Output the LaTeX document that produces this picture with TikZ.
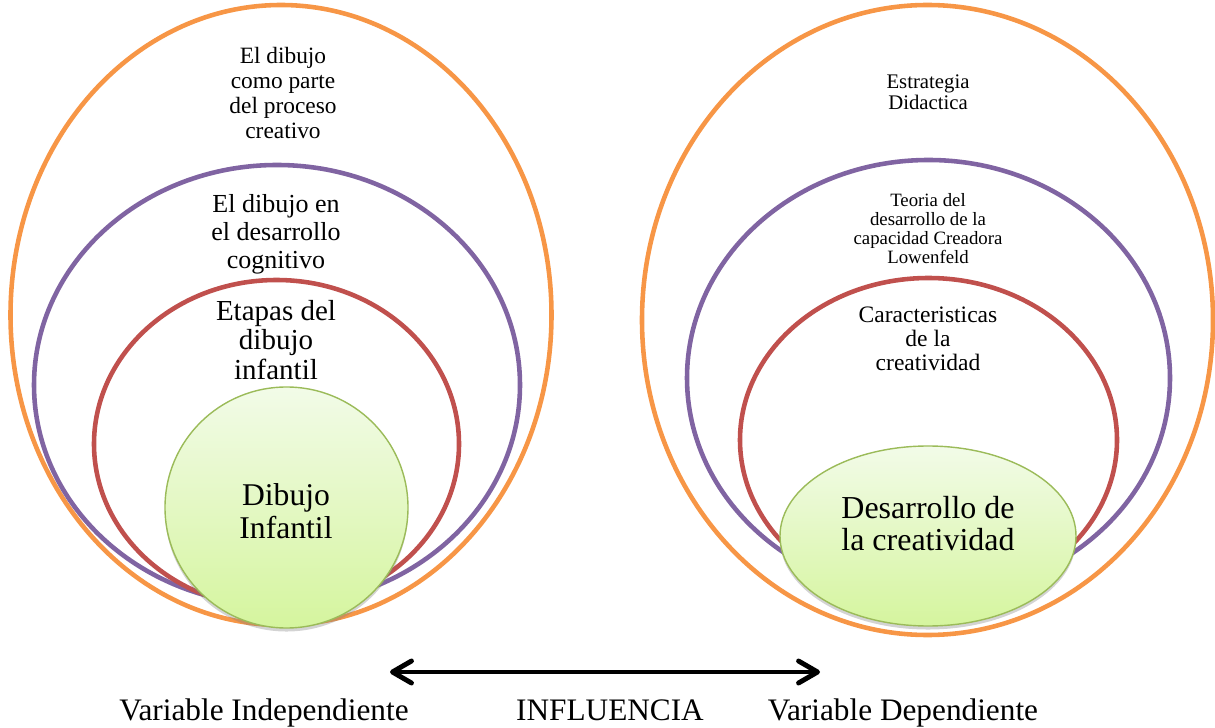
\documentclass[tikz,border=0pt]{standalone}
\usepackage{fontspec}
\setmainfont{Liberation Serif}
\usepackage{tikz}
\usetikzlibrary{arrows.meta,shapes.geometric,shadows,positioning}

\definecolor{orng}{HTML}{F79646}
\definecolor{purp}{HTML}{8064A2}
\definecolor{redd}{HTML}{C0504D}
\definecolor{grnb}{HTML}{9BBB59}
\definecolor{grnTop}{HTML}{F2FBE8}
\definecolor{grnBot}{HTML}{D5F59E}

\begin{document}
\begin{tikzpicture}[
    ring/.style={ellipse, draw, line width=2.6pt, inner sep=0pt},
    core/.style={ellipse, draw=grnb, line width=0.8pt, inner sep=0pt,
      top color=grnTop, bottom color=grnBot,
      drop shadow={shadow xshift=0pt, shadow yshift=-2pt, opacity=0.35}},
    tag/.style={align=center, inner sep=0pt},
    foot/.style={anchor=base, inner sep=0pt, font=\fontsize{17.8}{20}\selectfont}
  ]
        \useasboundingbox (0,0) rectangle (24.3,14.54);
        % lado izquierdo
        \node[ring, draw=orng, minimum width=10.82cm, minimum height=12.4cm] (ExtL) at (5.62,8.24) {};
        \node[ring, draw=purp, minimum width=9.72cm, minimum height=8.8cm] (MedL) at (5.54,6.84) {};
        \node[ring, draw=redd, minimum width=7.30cm, minimum height=6.56cm] (IntL) at (5.53,5.66) {};
        \node[core, minimum width=4.86cm, minimum height=4.82cm] (CoreL) at (5.73,4.39) {};
        \node[tag, font=\fontsize{13.3}{14.1}\selectfont] (ExtLtxt) at (5.66,12.68) {El dibujo\\como parte\\del proceso\\creativo};
        \node[tag, font=\fontsize{14.8}{15.9}\selectfont] (MedLtxt) at (5.52,9.86) {El dibujo en\\el desarrollo\\cognitivo};
        \node[tag, font=\fontsize{16.5}{16.8}\selectfont] (IntLtxt) at (5.52,7.74) {Etapas del\\dibujo\\infantil};
        \node[tag, font=\fontsize{18}{18.8}\selectfont] (CoreLtxt) at (5.72,4.32) {Dibujo\\Infantil};
        % lado derecho
        \node[ring, draw=orng, minimum width=11.42cm, minimum height=12.6cm] (ExtR) at (18.55,8.14) {};
        \node[ring, draw=purp, minimum width=9.66cm, minimum height=8.72cm] (MedR) at (18.57,6.98) {};
        \node[ring, draw=redd, minimum width=7.54cm, minimum height=6.48cm] (IntR) at (18.57,5.74) {};
        \node[core, minimum width=5.92cm, minimum height=3.6cm] (CoreR) at (18.56,3.82) {};
        \node[tag, font=\fontsize{11.8}{12}\selectfont] (ExtRtxt) at (18.56,12.70) {Estrategia\\Didactica};
        \node[tag, font=\fontsize{10.7}{10.8}\selectfont] (MedRtxt) at (18.56,9.96) {Teoria del\\desarrollo de la\\capacidad Creadora\\Lowenfeld};
        \node[tag, font=\fontsize{13.4}{13.7}\selectfont] (IntRtxt) at (18.56,7.76) {Caracteristicas\\de la\\creatividad};
        \node[tag, font=\fontsize{18.2}{18.2}\selectfont] (CoreRtxt) at (18.56,4.06) {Desarrollo de\\la creatividad};
        % pie
        \node[foot] (VarInd) at (5.28,0.14) {Variable Independiente};
        \node[foot] (Influ) at (12.2,0.14) {INFLUENCIA};
        \node[foot] (VarDep) at (18.06,0.14) {Variable Dependiente};
        \coordinate (ArrL) at (7.8,1.10);
        \coordinate (ArrR) at (16.4,1.10);
        \draw[{Straight Barb[length=3.8mm,width=4.4mm,round]}-{Straight Barb[length=3.8mm,width=4.4mm,round]},line width=2.8pt] (ArrL) -- (ArrR);
      \end{tikzpicture}
\end{document}
